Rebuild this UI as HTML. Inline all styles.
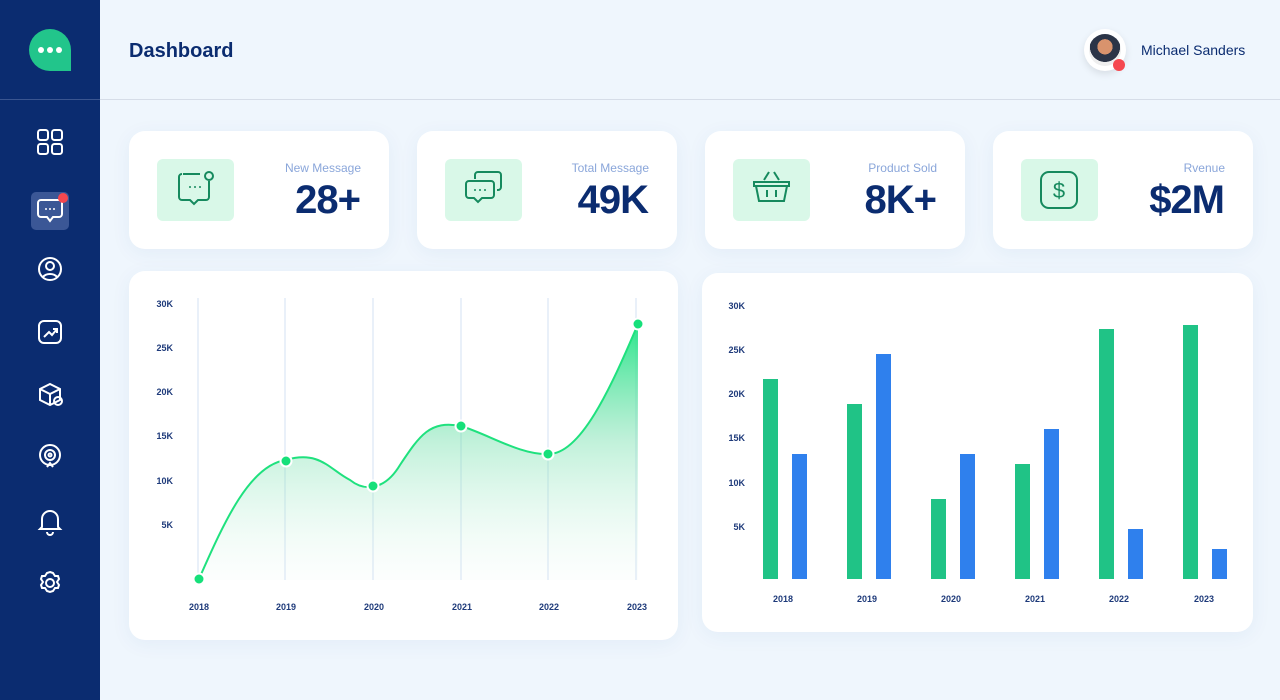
<!DOCTYPE html>
<html><head><meta charset="utf-8"><style>
*{margin:0;padding:0;box-sizing:border-box}
body{width:1280px;height:700px;background:#eff6fd;font-family:"Liberation Sans",sans-serif;position:relative;overflow:hidden}
.side{position:absolute;left:0;top:0;width:100px;height:700px;background:#0b2c70}
.abs{position:absolute}
.card{position:absolute;background:#fff;border-radius:16px;box-shadow:0 4px 20px rgba(30,80,160,.06)}
.ib{position:absolute;left:28px;top:28px;width:77px;height:62px;background:#d9f8e8;border-radius:6px}
.lab{position:absolute;right:28px;top:30px;font-size:12px;color:#8aa6da}
.val{position:absolute;right:29px;top:47px;font-size:40px;font-weight:bold;color:#0b2c70;letter-spacing:-1px}
.t{font-size:9px;font-weight:bold;fill:#1e3a7a;font-family:"Liberation Sans",sans-serif}
</style></head><body>
<div class="side">
<svg width="100" height="700" style="position:absolute;left:0;top:0">
<path d="M50 29a21 21 0 1 0 0 42h21v-21a21 21 0 0 0-21-21z" fill="#22c58b"/>
<circle cx="41" cy="50" r="3" fill="#fff"/><circle cx="50" cy="50" r="3" fill="#fff"/><circle cx="59" cy="50" r="3" fill="#fff"/>
<line x1="0" y1="99.5" x2="100" y2="99.5" stroke="#3a5590"/>
<g fill="none" stroke="#fff" stroke-width="2">
<rect x="38" y="130" width="10" height="10" rx="2.5"/><rect x="52" y="130" width="10" height="10" rx="2.5"/><rect x="38" y="144" width="10" height="10" rx="2.5"/><rect x="52" y="144" width="10" height="10" rx="2.5"/>
</g>
<rect x="31" y="192" width="38" height="38" rx="5" fill="#3b5796"/>
<path d="M41 200h18a3 3 0 0 1 3 3v11a3 3 0 0 1-3 3h-6l-3 4-3-4h-6a3 3 0 0 1-3-3v-11a3 3 0 0 1 3-3z" fill="none" stroke="#fff" stroke-width="2"/>
<circle cx="46" cy="209" r="1" fill="#fff"/><circle cx="50" cy="209" r="1" fill="#fff"/><circle cx="54" cy="209" r="1" fill="#fff"/>
<circle cx="63" cy="198" r="5" fill="#f5484f"/>
<g fill="none" stroke="#fff" stroke-width="2">
<circle cx="50" cy="269" r="11"/><circle cx="50" cy="266" r="4"/><path d="M43 277c3-4 11-4 14 0"/>
<rect x="39" y="321" width="22" height="22" rx="5"/><path d="M44 337l5-5 3 3 5-6M53 329h4v4"/>
<path d="M50 384l10 5v11l-10 5-10-5v-11zM40 389l10 5 10-5M50 394v11"/><circle cx="58" cy="401" r="4"/>
<circle cx="50" cy="455" r="10"/><circle cx="50" cy="455" r="5"/><circle cx="50" cy="455" r="1.5"/><path d="M47 467l3-4 3 4"/>
<path d="M42 527v-8a8 8 0 0 1 16 0v8l2 2h-20zM47 532a3 3 0 0 0 6 0"/>
<circle cx="50" cy="583" r="4"/><path d="M50 572l3 1 2 3 3 0 1 3-2 3 2 3-1 3-3 0-2 3-3 1-3-1-2-3-3 0-1-3 2-3-2-3 1-3 3 0 2-3z"/>
</g></svg>
</div>
<div class="abs" style="left:129px;top:40px;font-size:20px;font-weight:bold;color:#0b2c70">Dashboard</div>
<div class="abs" style="left:100px;top:99px;width:1180px;height:1px;background:#d6dde8"></div>
<div class="abs" style="left:1084px;top:29px;width:42px;height:42px;border-radius:50%;background:#fff;box-shadow:0 3px 8px rgba(0,0,0,.1)"></div>
<div class="abs" style="left:1089px;top:34px;width:32px;height:32px;border-radius:50%;background:radial-gradient(circle at 50% 40%,#d9936d 0 30%,#2b3447 31%,#2b3447 60%,#eee 61%)"></div>
<div class="abs" style="left:1113px;top:59px;width:12px;height:12px;border-radius:50%;background:#f5484f"></div>
<div class="abs" style="left:1141px;top:42px;font-size:14px;color:#0b2c70">Michael Sanders</div>

<div class="card" style="left:129px;top:131px;width:260px;height:118px"><div class="ib"><svg width="77" height="62"><path d="M26 15h17M52 22v16a3 3 0 0 1-3 3h-8l-4 4-4-4h-8a3 3 0 0 1-3-3v-20a3 3 0 0 1 3-3" fill="none" stroke="#168a5e" stroke-width="2"/><circle cx="52" cy="17" r="4" fill="none" stroke="#168a5e" stroke-width="2"/><circle cx="33" cy="28" r="1" fill="#168a5e"/><circle cx="38" cy="28" r="1" fill="#168a5e"/><circle cx="43" cy="28" r="1" fill="#168a5e"/></svg></div><div class="lab">New Message</div><div class="val">28+</div></div>
<div class="card" style="left:417px;top:131px;width:260px;height:118px"><div class="ib"><svg width="77" height="62"><g fill="none" stroke="#168a5e" stroke-width="2"><path d="M30 20v-4a3 3 0 0 1 3-3h20a3 3 0 0 1 3 3v12a3 3 0 0 1-3 3h-1"/><path d="M24 22h22a3 3 0 0 1 3 3v11a3 3 0 0 1-3 3h-9l-4 4-4-4h-5a3 3 0 0 1-3-3v-11a3 3 0 0 1 3-3z"/></g><circle cx="30" cy="31" r="1" fill="#168a5e"/><circle cx="35" cy="31" r="1" fill="#168a5e"/><circle cx="40" cy="31" r="1" fill="#168a5e"/></svg></div><div class="lab">Total Message</div><div class="val">49K</div></div>
<div class="card" style="left:705px;top:131px;width:260px;height:118px"><div class="ib"><svg width="77" height="62"><g fill="none" stroke="#168a5e" stroke-width="2"><path d="M21 23h35v4h-35zM23 27l3 15h25l3-15M31 21l5-8M46 21l-5-8M34 31v7M43 31v7"/></g></svg></div><div class="lab">Product Sold</div><div class="val">8K+</div></div>
<div class="card" style="left:993px;top:131px;width:260px;height:118px"><div class="ib"><svg width="77" height="62"><rect x="20" y="13" width="36" height="36" rx="8" fill="none" stroke="#168a5e" stroke-width="2"/><text x="38" y="39" text-anchor="middle" font-size="22" fill="#168a5e" font-family="Liberation Sans">$</text></svg></div><div class="lab">Rvenue</div><div class="val">$2M</div></div>

<div class="card" style="left:129px;top:271px;width:549px;height:369px"></div>
<div class="card" style="left:702px;top:273px;width:551px;height:359px"></div>
<svg class="abs" style="left:0;top:0" width="1280" height="700">
<defs><linearGradient id="g" x1="0" y1="0" x2="0" y2="1"><stop offset="0" stop-color="#1fe585" stop-opacity=".95"/><stop offset=".45" stop-color="#5fdba0" stop-opacity=".4"/><stop offset="1" stop-color="#e4f6ee" stop-opacity=".1"/></linearGradient></defs>
<g stroke="#d3e0f3" stroke-width="1">
<line x1="198" y1="298" x2="198" y2="580"/><line x1="285" y1="298" x2="285" y2="580"/><line x1="373" y1="298" x2="373" y2="580"/><line x1="461" y1="298" x2="461" y2="580"/><line x1="548" y1="298" x2="548" y2="580"/><line x1="636" y1="298" x2="636" y2="580"/></g>
<g class="t" text-anchor="end"><text x="173" y="307">30K</text><text x="173" y="351">25K</text><text x="173" y="395">20K</text><text x="173" y="439">15K</text><text x="173" y="484">10K</text><text x="173" y="528">5K</text></g>
<g class="t" text-anchor="middle"><text x="199" y="610">2018</text><text x="286" y="610">2019</text><text x="374" y="610">2020</text><text x="462" y="610">2021</text><text x="549" y="610">2022</text><text x="637" y="610">2023</text></g>
<path d="M199 579C225 520 250 465 286 460C320 450 330 470 350 480C365 492 385 490 400 465C420 435 430 420 461 426C490 435 520 455 548 454C580 455 610 390 638 324L638 580L199 580Z" fill="url(#g)"/>
<path d="M199 579C225 520 250 465 286 460C320 450 330 470 350 480C365 492 385 490 400 465C420 435 430 420 461 426C490 435 520 455 548 454C580 455 610 390 638 324" fill="none" stroke="#1fe17e" stroke-width="2"/>
<g fill="#16e07a" stroke="#fff" stroke-width="2"><circle cx="199" cy="579" r="5.5"/><circle cx="286" cy="461" r="5.5"/><circle cx="373" cy="486" r="5.5"/><circle cx="461" cy="426" r="5.5"/><circle cx="548" cy="454" r="5.5"/><circle cx="638" cy="324" r="5.5"/></g>

<g class="t" text-anchor="end"><text x="745" y="309">30K</text><text x="745" y="353">25K</text><text x="745" y="397">20K</text><text x="745" y="441">15K</text><text x="745" y="486">10K</text><text x="745" y="530">5K</text></g>
<g class="t" text-anchor="middle"><text x="783" y="602">2018</text><text x="867" y="602">2019</text><text x="951" y="602">2020</text><text x="1035" y="602">2021</text><text x="1119" y="602">2022</text><text x="1204" y="602">2023</text></g>
<g fill="#20c386"><rect x="763" y="379" width="15" height="200"/><rect x="847" y="404" width="15" height="175"/><rect x="931" y="499" width="15" height="80"/><rect x="1015" y="464" width="15" height="115"/><rect x="1099" y="329" width="15" height="250"/><rect x="1183" y="325" width="15" height="254"/></g>
<g fill="#2f80ed"><rect x="792" y="454" width="15" height="125"/><rect x="876" y="354" width="15" height="225"/><rect x="960" y="454" width="15" height="125"/><rect x="1044" y="429" width="15" height="150"/><rect x="1128" y="529" width="15" height="50"/><rect x="1212" y="549" width="15" height="30"/></g>
</svg>
</body></html>
